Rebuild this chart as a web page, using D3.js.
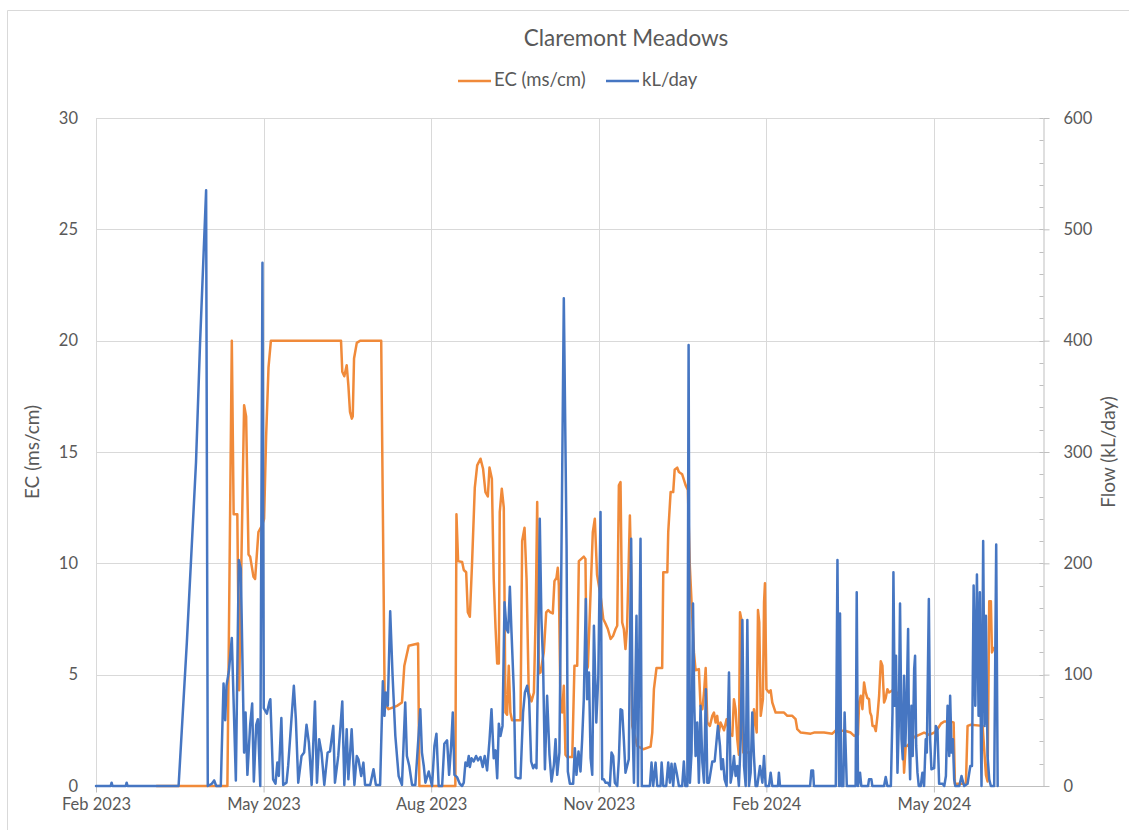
<!DOCTYPE html>
<html>
<head>
<meta charset="utf-8">
<title>Claremont Meadows</title>
<script src="https://cdn.jsdelivr.net/npm/d3@7"></script>
<style>
  html, body { margin: 0; padding: 0; background: #fff; }
  svg { display: block; }
  text { font-family: Lato, "Open Sans", "Liberation Sans", sans-serif; fill: #595959; }
</style>
</head>
<body>
<svg id="chart" width="1129" height="830"></svg>
<script>
// ---- data -------------------------------------------------------------
// Readings are positioned by days elapsed since the logging start date.
const startDate = Date.UTC(2023, 1, 1);
const endDate = Date.UTC(2024, 6, 1);

const ecDays = [33, 71.6, 74, 75, 77, 78, 80.7, 81.8, 83.1, 84, 85.8, 86.7, 88.5, 90.4, 91.6, 92.7, 94, 95.3,
  133.5, 134.2, 135.3, 136.6, 137.5, 138.4, 139.4, 139.9, 140.6, 142.1, 143.9, 155.4, 156.7, 157.3, 159.4, 164,
  166.7, 168, 170.4, 175.5, 176.2, 195.8, 196.4, 197.3, 199.5, 200.4, 201.7, 202.6, 203.7, 204.9, 206.4, 207.7,
  209.5, 210.9, 212.2, 213.5, 214.4, 215.7, 216.7, 217.7, 218.6, 219.5, 220, 221.1, 222.2, 223.1, 224, 224.9,
  225.8, 226.7, 231.3, 232.2, 233.5, 234.6, 235.8, 237.3, 238.6, 239.6, 240.4, 241.3, 242.2, 244, 245.3, 246.4,
  247.6, 248.9, 249.8, 250.9, 251.6, 252.2, 253.1, 254, 254.9, 255.8, 256.7, 259.5, 260.7, 262.2, 263.1, 265.8,
  266.7, 267.3, 268, 270.7, 271.8, 273, 275, 276.4, 277.6, 278.9, 280.4, 281.8, 283.1, 284, 284.9, 285.8, 286.7,
  287.6, 288.5, 289.4, 290.9, 291.6, 292.2, 293.1, 294.9, 298.2, 302.2, 303.1, 304, 305.4, 308.5, 309.1, 311.3,
  311.8, 313.1, 314.5, 315.3, 316.7, 317.6, 319.4, 321.3, 322.5, 323.5, 325.8, 326.7, 328.5, 329.4, 330.4, 331.3,
  332.2, 333.1, 334.5, 335.8, 336.7, 337.6, 338.5, 339.4, 340.3, 342.2, 343.6, 344.9, 346.7, 347.6, 348.5, 349.4,
  350.3, 350.9, 351.6, 352.7, 356.7, 357.6, 358.5, 360, 360.7, 361.4, 362.2, 363.4, 364, 364.5, 365.3, 366.7,
  367.6, 368.5, 370.3, 374.9, 376.7, 379.4, 381.2, 382.1, 384, 389.4, 391.2, 396.7, 401.2, 403.1, 408.5, 411.2,
  413.1, 415.2, 415.8, 416.7, 417.6, 418.5, 419.4, 420.3, 421.2, 421.8, 422.5, 423.1, 424, 424.9, 425.8, 426.7,
  427.6, 428.5, 429.4, 430.3, 431.2, 432.1, 434, 435.8, 436.7, 438.5, 439.4, 440.3, 441.2, 442.1, 445.8, 448.5,
  451.2, 454, 456.7, 458.5, 460.4, 462.2, 464.9, 467.3, 468, 474, 474.9, 476.7, 483.1, 484.9, 485.8, 486.7,
  487.6, 488.2, 489.1];
const ecValues = [0, 0, 20, 12.2, 12.2, 4.3, 17.1, 16.6, 10.4, 10.3, 9.4, 9.3, 11.4, 11.7, 12, 15.7, 18.8, 20,
  20, 18.6, 18.4, 18.9, 18, 16.8, 16.5, 16.6, 19.2, 19.9, 20, 20, 9, 3.7, 3.45, 3.6,
  3.75, 5.4, 6.3, 6.4, 0, 0, 12.2, 10.1, 10.06, 9.7, 9.6, 7.8, 7.6, 10, 13.4, 14.4,
  14.7, 14.25, 13.2, 13, 14.3, 13.8, 9.3, 7.1, 5.5, 5.5, 12.3, 13.35, 12.5, 3.3, 3.2, 5.4,
  3.3, 2.95, 2.95, 11, 11.6, 9.3, 4.2, 3.8, 4.2, 7.8, 12.75, 5.05, 5.1, 6, 7.8, 7.9,
  7.8, 7.75, 9.2, 9.35, 9.8, 9, 3.6, 3.3, 4.5, 1.4, 1.3, 1.3, 5.4, 5.4, 10.1, 10.3,
  10.2, 5.2, 5.35, 11.4, 12, 9.5, 8.5, 7.5, 7.3, 7.05, 6.6, 6.75, 7.05, 7.2, 13.5, 13.65, 7.35,
  7.05, 6.15, 7.2, 12.15, 9.6, 2.7, 2.4, 1.8, 1.65, 1.77, 2.4, 4.35, 5.3, 5.3, 9.6, 9.6,
  11.4, 13.2, 13.2, 14.2, 14.3, 14.1, 14, 13.5, 13.3, 10, 6, 5.2, 5.25, 3.6, 3.45, 4.2,
  5.3, 2.85, 2.7, 3.15, 3.3, 2.85, 3.15, 2.4, 2.85, 2.5, 3, 2.4, 2.25, 3.9, 3.45, 2.1,
  1.4, 7.8, 7.5, 1.5, 1.5, 1.6, 3.45, 2.4, 7.9, 7.35, 3.15, 3.9, 8.25, 9.1, 4.35, 4.2,
  4.3, 3.75, 3.3, 3.3, 3.15, 3.15, 3, 2.55, 2.4, 2.35, 2.4, 2.4, 2.35, 2.5, 2.47, 2.4,
  2.25, 2.3, 3.75, 4.05, 3.45, 4.65, 4.2, 3.95, 3.9, 3.3, 3.15, 2.7, 2.7, 2.47, 3.15, 4.05,
  5.6, 5.4, 3.75, 3.95, 4.35, 4.2, 4.3, 4.25, 4.15, 3.9, 3.3, 0.6, 1.8, 1.8, 2.2, 2.3,
  2.4, 2.3, 2.4, 2.55, 2.8, 2.9, 2.9, 2.85, 0.1, 0.1, 2.7, 2.75, 2.7, 0.5, 0.2, 8.3,
  8.3, 6, 6.2];

const flowDays = [0, 8, 8.5, 9, 16.2, 16.7, 17.2, 45, 49.5, 54.5, 56.7, 60, 60.9, 63.1, 64.4, 65.5, 68, 69.5,
  70.4, 71.1, 72.4, 74, 76.2, 77.8, 78.9, 80.7, 81.5, 82.5, 84, 85.1, 86, 87.3, 88.2, 89.5, 90.7, 91.4, 93.1,
  94.4, 95, 96.5, 97.8, 98.8, 99.6, 101, 102, 103.8, 104.7, 106.5, 107.8, 108.9, 110.2, 112, 113.4, 114.7, 116,
  117.5, 119.3, 120.4, 121.6, 122.9, 124.4, 126.2, 127.5, 129.3, 130.2, 132, 134.2, 135.3, 136.6, 137.5, 139.3,
  140.8, 142.1, 143, 144.5, 145.7, 146.6, 149.4, 151.2, 152.5, 154.8, 156.3, 157.2, 157.9, 159, 160.3, 161.6,
  163.1, 164.9, 166.7, 168.5, 169.4, 170.7, 172.2, 174, 176.7, 177.6, 178.6, 179.5, 181.3, 183.1, 184.4, 185.5,
  186.7, 188.6, 189.8, 191.3, 192.4, 193.5, 194.4, 195.3, 196.7, 198.2, 199.5, 200.4, 201.3, 202.2, 203.1,
  203.7, 204.6, 205.8, 207.1, 208.2, 209.5, 210.7, 211.8, 213.1, 214.4, 215.5, 216.7, 217.7, 218.6, 219.5,
  220.4, 221.5, 222.6, 223.7, 224.6, 225.5, 226.4, 227.7, 228.6, 229.8, 231.3, 232.7, 233.7, 234.9, 236, 237.1,
  238.2, 239.1, 240, 240.9, 241.8, 242.7, 243.6, 244.6, 245.8, 247.1, 248.2, 249.5, 250.4, 251.3, 252.5, 253.5,
  254.9, 256.4, 257.1, 258.2, 260, 260.9, 261.8, 262.9, 264, 264.9, 265.8, 266.9, 267.6, 268.6, 269.5, 270.4,
  271.3, 272.6, 273.7, 274.9, 275.8, 276.7, 277.6, 278.9, 280, 280.9, 281.8, 282.7, 284, 284.9, 285.8, 286.7,
  287.6, 288.5, 289.4, 290.3, 291.6, 292.4, 293.1, 294, 294.5, 295.3, 296, 296.7, 297.4, 301.8, 302.7, 303.6,
  304.9, 305.8, 307.6, 308.2, 309.1, 310.7, 311.8, 312.7, 313.6, 314.5, 315.4, 316.4, 317.6, 319.4, 320.3,
  321.1, 322.2, 322.9, 323.6, 324.5, 325.3, 326, 326.7, 327.6, 328.5, 329.4, 330.4, 331.3, 332.3, 333.1, 334,
  335.8, 337.1, 338.2, 338.9, 340, 340.7, 341.6, 342.5, 343.6, 344.9, 345.8, 346.7, 347.6, 348.5, 349.4, 350.3,
  351.3, 352.2, 353.1, 354, 354.9, 355.8, 356.7, 357.6, 358.5, 359.4, 360.3, 361.8, 363.1, 364, 364.9, 366.7,
  367.6, 368.5, 371.6, 372.1, 372.7, 389.1, 389.8, 390.7, 391.2, 403.1, 404, 404.9, 405.4, 406.1, 407.2, 407.9,
  409.1, 413.9, 414.5, 415.2, 416.3, 417, 420.7, 421.2, 422.5, 423, 429.4, 430.3, 431.2, 433.1, 434, 434.5,
  435.2, 435.9, 436.7, 437.4, 438.1, 438.9, 439.6, 440.3, 441, 441.8, 442.5, 443, 443.6, 444.3, 445, 445.8,
  446.3, 446.9, 447.6, 448.3, 449.4, 450.3, 451.2, 452.1, 452.7, 453.8, 454.5, 455.2, 456.7, 457.6, 458.5,
  459.4, 461.3, 462.2, 463.1, 464, 464.9, 465.4, 466.2, 466.9, 467.6, 468.2, 470.4, 471.6, 472.5, 473.1, 474.9,
  476.4, 477.3, 478.2, 479.1, 480, 480.9, 481.6, 482.2, 482.5, 483.4, 484.2, 484.9, 485.8, 486.7, 487.6, 489.4,
  490.5, 491.3];
const flowValues = [0, 0, 3, 0, 0, 3, 0, 0, 129, 291, 398, 535, 0, 2, 5, 0, 0, 92,
  59, 90, 103, 133, 5, 203, 195, 30, 66, 10, 55, 74, 4, 55, 60, 0, 470, 70, 65,
  75, 78, 6, 2, 21, 9, 61, 1, 3, 18, 60, 90, 60, 3, 27, 30, 55, 39,
  1, 76, 3, 42, 30, 1, 30, 31, 54, 3, 27, 76, 1, 51, 6, 51,
  1, 27, 24, 9, 21, 1, 1, 15, 1, 1, 94, 63, 84, 72, 157, 99,
  45, 9, 1, 75, 27, 18, 1, 1, 69, 30, 18, 3, 13, 0, 36, 47,
  0, 0, 38, 41, 10, 36, 66, 10, 8, 2, 0, 3, 21, 18, 27,
  17, 25, 22, 27, 23, 26, 17, 27, 14, 41, 69, 25, 32, 7, 56,
  45, 54, 165, 141, 138, 179, 138, 84, 8, 7, 7, 66, 84, 90, 78, 22,
  16, 19, 16, 111, 240, 150, 111, 15, 81, 28, 4, 19, 42, 10, 30, 190,
  438, 216, 13, 2, 2, 34, 10, 31, 13, 42, 78, 168, 78, 102, 25, 10,
  144, 57, 99, 246, 6, 6, 3, 3, 0, 30, 27, 3, 0, 24, 69, 68,
  42, 12, 18, 24, 222, 54, 3, 102, 153, 0, 117, 222, 0, 0, 21, 0,
  21, 0, 0, 21, 0, 0, 21, 3, 20, 0, 20, 12, 0, 0, 22,
  0, 0, 396, 3, 30, 164, 72, 27, 57, 3, 72, 21, 3, 87, 3, 3,
  22, 22, 42, 54, 36, 15, 24, 6, 0, 102, 3, 12, 27, 9, 18, 0,
  42, 149, 18, 0, 149, 0, 12, 66, 27, 0, 0, 18, 3, 27, 0, 0,
  12, 0, 0, 12, 0, 0, 14, 14, 0, 0, 203, 0, 155, 0, 0, 66,
  0, 0, 174, 0, 12, 0, 0, 6, 6, 0, 0, 8, 0, 0, 66, 192,
  72, 117, 12, 54, 164, 42, 24, 99, 36, 81, 141, 42, 6, 72, 27, 105,
  117, 36, 12, 0, 0, 12, 0, 42, 30, 168, 42, 15, 16, 54, 51,
  2, 2, 0, 9, 72, 27, 81, 30, 42, 6, 0, 0, 9, 3, 0, 2,
  18, 18, 180, 72, 190, 63, 174, 36, 0, 220, 54, 153, 27, 6, 0, 0,
  217, 0];

const ecTicks = [0, 5, 10, 15, 20, 25, 30];
const flowTicks = [0, 100, 200, 300, 400, 500, 600];
const flowMinorTicks = d3.range(0, 601, 20);
const seriesNames = ["EC (ms/cm)", "kL/day"];
const seriesColors = ["#F08A3A", "#4676C2"];

// ---- layout -----------------------------------------------------------
const DAY = 864e5;
const toDate = d => new Date(startDate + d * DAY);
const ecData = ecDays.map((d, i) => ({ date: toDate(d), value: ecValues[i] }));
const flowData = flowDays.map((d, i) => ({ date: toDate(d), value: flowValues[i] }));

// date ticks every quarter of a year from the start date
const quarterTicks = d3.range(6).map(i => new Date(startDate + i * 365.25 / 4 * DAY));

const plot = { left: 96, right: 1043, top: 118, bottom: 786 };
const svg = d3.select("#chart");

const x = d3.scaleUtc().domain([new Date(startDate), new Date(endDate)]).range([plot.left, plot.right]);
const yEC = d3.scaleLinear().domain([0, 30]).range([plot.bottom, plot.top]);
const yFlow = d3.scaleLinear().domain([0, 600]).range([plot.bottom, plot.top]);

// outer chart frame
svg.append("path")
  .attr("d", "M7.5,830 V10.5 H1129")
  .attr("fill", "none").attr("stroke", "#d9d9d9").attr("stroke-width", 1);

// horizontal gridlines
svg.append("g")
  .selectAll("line").data(ecTicks.slice(1)).join("line")
  .attr("x1", plot.left).attr("x2", plot.right)
  .attr("y1", d => Math.round(yEC(d)) + 0.5).attr("y2", d => Math.round(yEC(d)) + 0.5)
  .attr("stroke", "#d9d9d9").attr("stroke-width", 1);

// vertical gridlines at the quarter ticks
svg.append("g")
  .selectAll("line").data(quarterTicks).join("line")
  .attr("x1", d => Math.round(x(d)) + 0.5).attr("x2", d => Math.round(x(d)) + 0.5)
  .attr("y1", plot.top).attr("y2", plot.bottom)
  .attr("stroke", "#d9d9d9").attr("stroke-width", 1);

// bottom date axis
const xAxis = svg.append("g")
  .attr("transform", `translate(0,${plot.bottom + 0.5})`)
  .call(d3.axisBottom(x).tickValues(quarterTicks).tickFormat(d3.utcFormat("%b %Y"))
    .tickSizeInner(6).tickSizeOuter(0).tickPadding(6));
xAxis.select(".domain").remove();
xAxis.append("line").attr("x1", plot.left).attr("x2", plot.right + 6)
  .attr("stroke", "#bfbfbf").attr("stroke-width", 1);
xAxis.selectAll(".tick line").attr("stroke", "#bfbfbf");
xAxis.selectAll(".tick text").attr("font-size", 16.5).attr("fill", "#595959");

// left EC axis (labels only)
const leftAxis = svg.append("g")
  .attr("transform", `translate(${plot.left},0)`)
  .call(d3.axisLeft(yEC).tickValues(ecTicks).tickSize(0).tickPadding(18));
leftAxis.select(".domain").remove();
leftAxis.selectAll(".tick text").attr("font-size", 16.5).attr("fill", "#595959");

// right flow axis with minor ticks
const rightX = plot.right + 0.5;
svg.append("g")
  .selectAll("line").data(flowMinorTicks).join("line")
  .attr("x1", rightX - 4).attr("x2", rightX)
  .attr("y1", d => Math.round(yFlow(d)) + 0.5).attr("y2", d => Math.round(yFlow(d)) + 0.5)
  .attr("stroke", "#bfbfbf");
const rightAxis = svg.append("g")
  .attr("transform", `translate(${rightX},0)`)
  .call(d3.axisRight(yFlow).tickValues(flowTicks).tickSizeInner(6).tickSizeOuter(0).tickPadding(14));
rightAxis.select(".domain").attr("stroke", "#bfbfbf");
rightAxis.selectAll(".tick line").attr("stroke", "#bfbfbf");
rightAxis.selectAll(".tick text").attr("font-size", 16.5).attr("fill", "#595959");

// plot area left edge
svg.append("line")
  .attr("x1", plot.left + 0.5).attr("x2", plot.left + 0.5)
  .attr("y1", plot.top).attr("y2", plot.bottom)
  .attr("stroke", "#d9d9d9");

// series lines
const ecLine = d3.line().x(d => x(d.date)).y(d => yEC(d.value));
const flowLine = d3.line().x(d => x(d.date)).y(d => yFlow(d.value));

svg.append("path").datum(ecData)
  .attr("d", ecLine)
  .attr("fill", "none").attr("stroke", seriesColors[0])
  .attr("stroke-width", 2.5).attr("stroke-linejoin", "round").attr("stroke-linecap", "round");

svg.append("path").datum(flowData)
  .attr("d", flowLine)
  .attr("fill", "none").attr("stroke", seriesColors[1])
  .attr("stroke-width", 2.5).attr("stroke-linejoin", "round").attr("stroke-linecap", "round");

// axis titles
svg.append("text")
  .attr("transform", `translate(34,${(plot.top + plot.bottom) / 2}) rotate(-90)`)
  .attr("text-anchor", "middle").attr("dominant-baseline", "middle")
  .attr("font-size", 19).text("EC (ms/cm)");
svg.append("text")
  .attr("transform", `translate(1110,${(plot.top + plot.bottom) / 2}) rotate(-90)`)
  .attr("text-anchor", "middle").attr("dominant-baseline", "middle")
  .attr("font-size", 19).text("Flow (kL/day)");

// title
svg.append("text")
  .attr("x", 626).attr("y", 40)
  .attr("text-anchor", "middle").attr("dominant-baseline", "middle")
  .attr("font-size", 22.5).text("Claremont Meadows");

// legend
const legendX = [458, 606];
const legend = svg.append("g").selectAll("g").data(seriesNames).join("g")
  .attr("transform", (d, i) => `translate(${legendX[i]},81)`);
legend.append("line")
  .attr("x1", 0).attr("x2", 33).attr("y1", 0).attr("y2", 0)
  .attr("stroke", (d, i) => seriesColors[i]).attr("stroke-width", 2.5);
legend.append("text")
  .attr("x", 36).attr("y", 0).attr("dominant-baseline", "middle")
  .attr("font-size", 18.5).text(d => d);
</script>
</body>
</html>
